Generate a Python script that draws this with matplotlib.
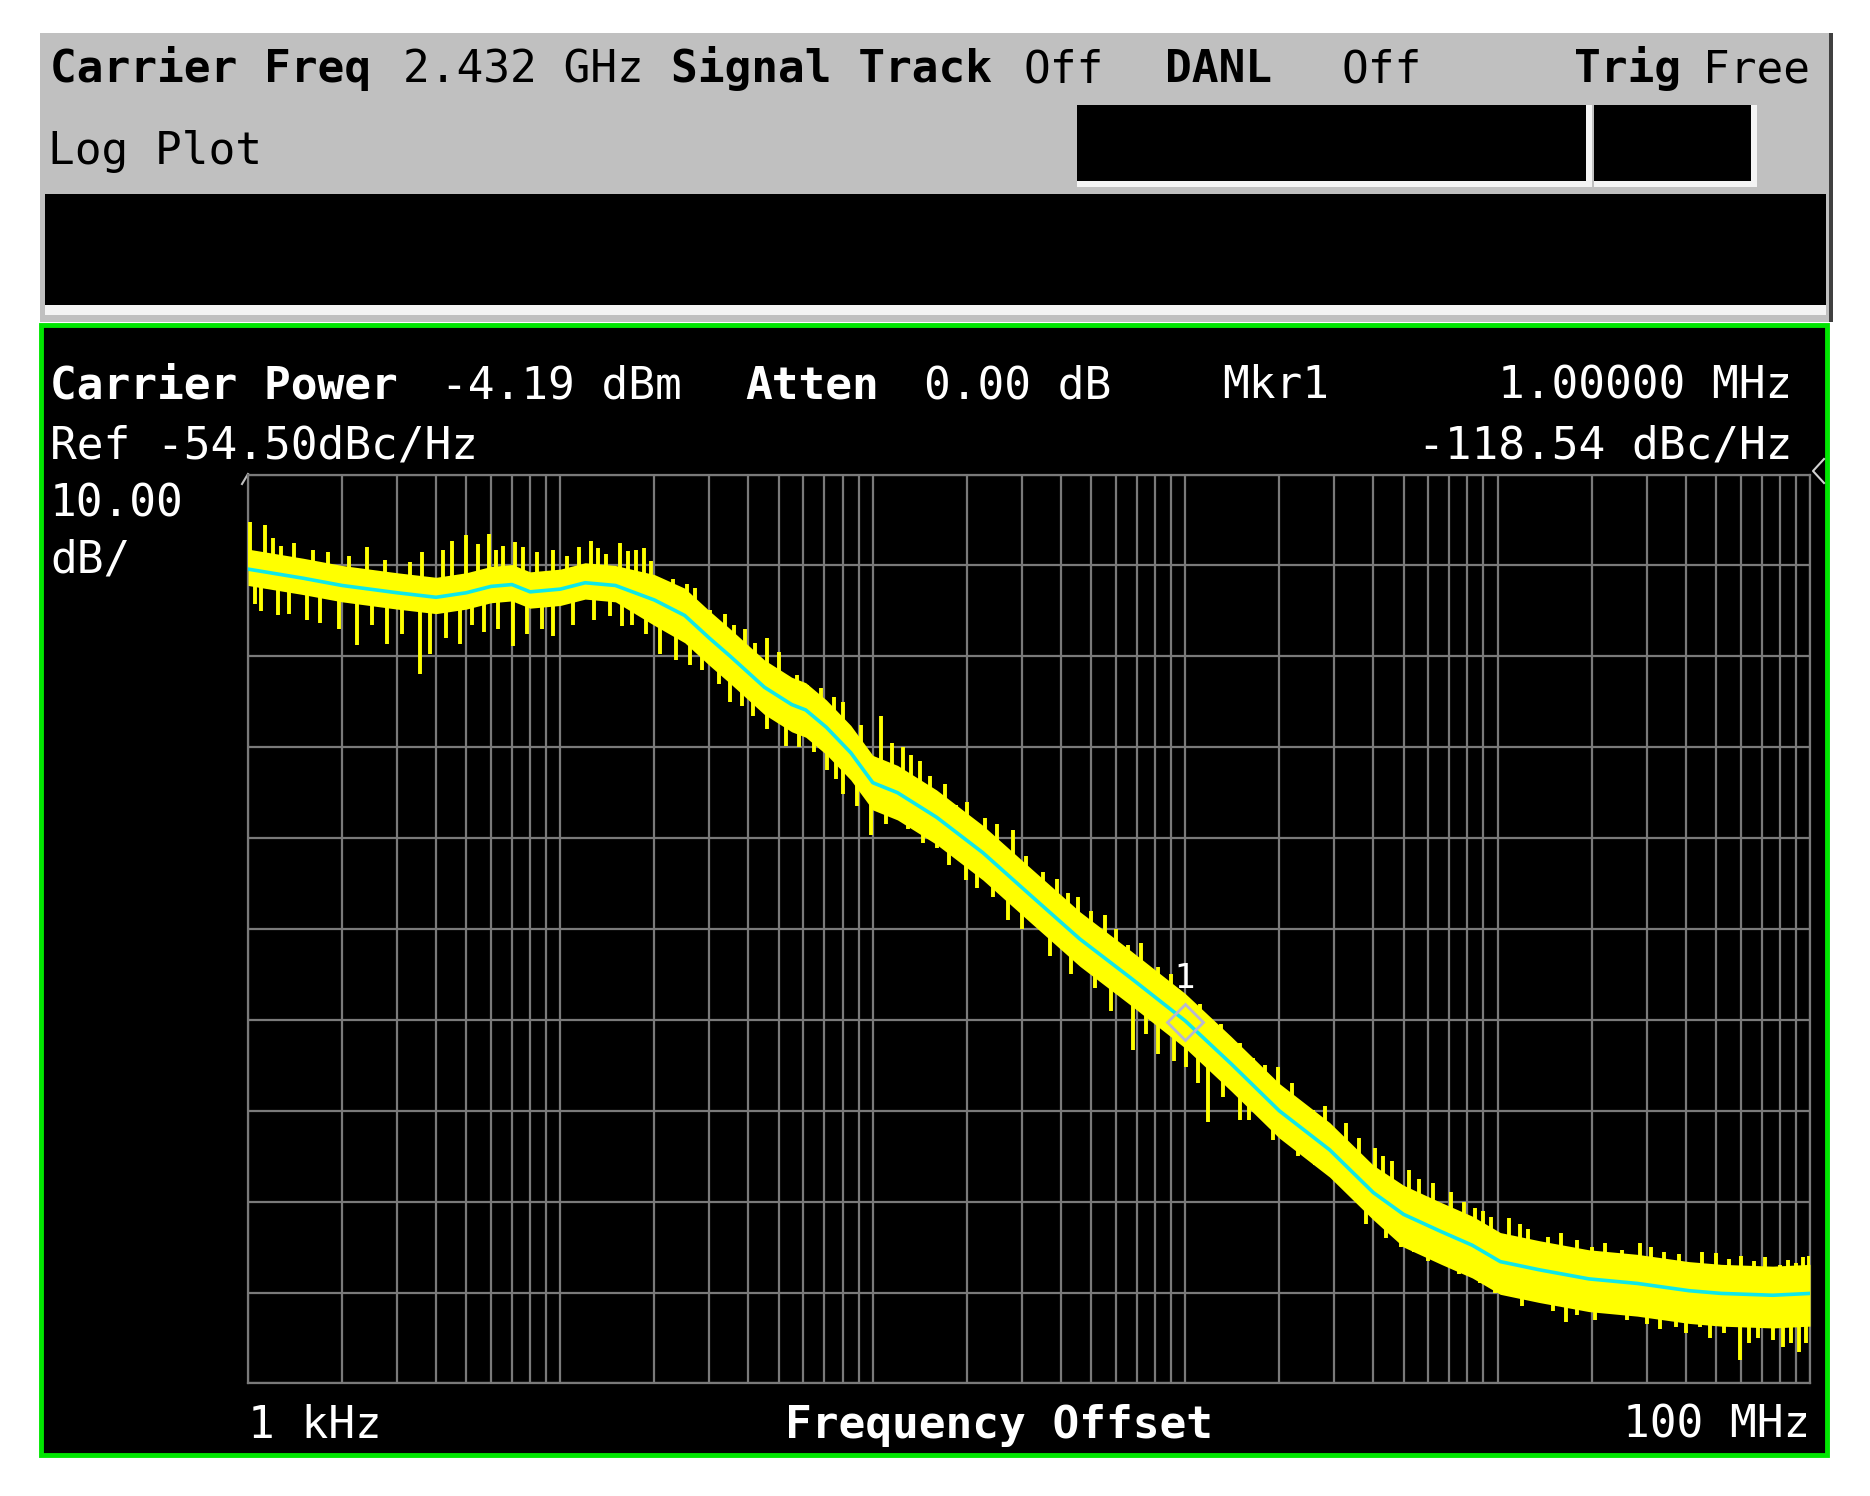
import numpy as np
import matplotlib
matplotlib.use("Agg")
import matplotlib.pyplot as plt
from matplotlib.patches import Rectangle
from matplotlib.ticker import LogLocator, FixedLocator, NullFormatter

# ---- data (frequency offset in Hz, level in dBc/Hz) ----
ref_level = -54.50
db_per_div = 10.0

avg_freq_hz = [1e3, 1.5e3, 2e3, 3e3, 4e3, 5e3, 6e3, 7e3, 8e3, 10e3, 12e3, 15e3, 20e3, 25e3,
               30e3, 35e3, 45e3, 55e3, 61e3, 71e3, 85e3, 100e3, 120e3, 160e3, 225e3, 325e3,
               460e3, 670e3, 1e6, 1.4e6, 2e6, 2.9e6, 4e6, 5e6, 6.6e6, 8.3e6, 10.2e6, 13.6e6,
               19.6e6, 28e6, 41e6, 52e6, 76e6, 100e6]
avg_db = [-64.9, -65.9, -66.7, -67.5, -68.0, -67.5, -66.8, -66.6, -67.4, -67.1, -66.4, -66.7,
          -68.3, -70.0, -72.5, -74.5, -77.9, -79.8, -80.4, -82.3, -85.1, -88.4, -89.5, -92.2,
          -96.1, -101.0, -105.6, -109.9, -114.6, -119.3, -124.5, -128.8, -133.5, -135.9,
          -137.8, -139.3, -141.1, -142.0, -143.0, -143.5, -144.3, -144.6, -144.8, -144.6]

# dense body of the raw (yellow) trace
raw_hi_db = [-62.7, -63.7, -64.5, -65.3, -65.8, -65.3, -64.6, -64.4, -65.2, -64.9, -64.2, -64.5,
             -65.5, -67.0, -69.5, -71.5, -74.9, -76.8, -77.4, -79.3, -82.1, -85.4, -86.5, -89.2,
             -93.1, -98.0, -102.6, -106.9, -111.6, -116.3, -121.5, -125.8, -130.5, -132.7,
             -134.6, -136.1, -137.9, -138.8, -139.8, -140.3, -141.1, -141.4, -141.6, -141.4]
raw_lo_db = [-66.7, -67.7, -68.5, -69.3, -69.8, -69.3, -68.6, -68.4, -69.2, -68.9, -68.2, -68.5,
             -71.1, -73.0, -75.5, -77.5, -80.9, -82.8, -83.4, -85.3, -88.1, -91.4, -92.5, -95.2,
             -99.1, -104.0, -108.6, -112.9, -117.6, -122.3, -127.5, -131.8, -136.5, -139.5,
             -141.4, -142.9, -144.7, -145.6, -146.6, -147.1, -147.9, -148.2, -148.4, -148.2]

# noise spikes of the raw trace (tips)
up_spike_hz = [1.015e3, 1.13e3, 1.2e3, 1.28e3, 1.4e3, 1.62e3, 1.8e3, 2.1e3, 2.4e3, 2.74e3,
               3.30e3, 3.6e3, 4.2e3, 4.5e3, 5.0e3, 5.46e3, 5.9e3, 6.2e3, 6.56e3, 7.15e3, 7.6e3,
               8.4e3, 9.49e3, 10.5e3, 11.5e3, 12.5e3, 13.2e3, 14.0e3, 15.5e3, 16.5e3, 17.5e3,
               18.5e3, 19.5e3, 21.3e3, 23e3, 25.5e3, 27e3, 30.1e3, 33.6e3, 36e3, 39e3, 42e3,
               45.7e3, 50e3, 57e3, 61.4e3, 68.5e3, 75e3, 80e3, 92e3, 106.6e3, 115e3, 125e3,
               133e3, 142e3, 152e3, 170e3, 185e3, 200e3, 228e3, 250e3, 281e3, 310e3, 350e3,
               390e3, 420e3, 454e3, 500e3, 553e3, 600e3, 656e3, 720e3, 818e3, 900e3, 1.113e6,
               1.198e6, 1.3e6, 1.5e6, 1.648e6, 1.8e6, 1.98e6, 2.2e6, 2.56e6, 2.8e6, 3.28e6,
               3.6e6, 4.04e6, 4.3e6, 4.6e6, 5.2e6, 5.6e6, 6.2e6, 7.11e6, 7.8e6, 8.44e6, 9.0e6,
               9.55e6, 10.9e6, 11.8e6, 12.5e6, 14.5e6, 16e6, 17.9e6, 20e6, 22e6, 25e6, 28.5e6,
               31e6, 34e6, 38e6, 45e6, 50.1e6, 55e6, 60e6, 66e6, 72e6, 79.9e6, 85e6, 90e6,
               94.8e6, 99e6]
up_spike_db = [-59.7, -60.1, -61.5, -62.4, -62.0, -62.8, -63.0, -63.5, -62.5, -63.9,
               -64.1, -63.0, -62.8, -61.8, -61.2, -62.1, -61.0, -62.8, -62.4, -61.9, -62.5,
               -63.0, -62.8, -63.5, -62.5, -61.8, -62.6, -63.2, -62.0, -62.9, -62.8,
               -62.6, -64.0, -66.8, -66.0, -66.5, -67.0, -69.4, -69.8, -71.0, -71.5, -73.0,
               -72.5, -74.0, -76.5, -77.7, -78.0, -79.0, -79.5, -82.0, -81.1, -84.0, -84.5,
               -85.4, -86.0, -87.7, -88.5, -90.9, -90.5, -92.3, -93.0, -93.6, -96.5, -98.2,
               -99.0, -100.5, -101.0, -102.5, -103.0, -104.5, -106.3, -106.0, -108.7, -109.5,
               -112.7, -114.5, -115.0, -117.0, -118.7, -119.5, -119.7, -121.5, -124.4, -124.0,
               -125.9, -127.5, -128.6, -129.5, -130.0, -131.0, -132.0, -132.5, -133.4, -134.5,
               -135.2, -135.5, -136.2, -136.3, -137.0, -137.5, -138.4, -138.0, -138.7, -139.5,
               -139.0, -139.8, -139.1, -139.5, -140.0, -140.3, -140.0, -140.2, -140.8, -140.5,
               -141.0, -140.6, -141.5, -140.9, -141.2, -140.6, -140.5]
down_spike_hz = [1.05e3, 1.1e3, 1.25e3, 1.35e3, 1.54e3, 1.7e3, 1.95e3, 2.23e3, 2.5e3, 2.78e3,
                 3.1e3, 3.55e3, 3.82e3, 4.3e3, 4.76e3, 5.2e3, 5.7e3, 6.3e3, 7.06e3, 7.8e3,
                 8.7e3, 9.49e3, 11e3, 12.8e3, 14.4e3, 15.7e3, 17e3, 18.8e3, 20.8e3, 23.5e3,
                 26e3, 28.5e3, 32.3e3, 34.8e3, 38e3, 41.4e3, 46e3, 52.9e3, 58e3, 65e3, 71.1e3,
                 76e3, 80.4e3, 88.7e3, 99e3, 110e3, 122e3, 130e3, 145e3, 160e3, 175e3, 199e3,
                 215e3, 242e3, 270e3, 300e3, 370e3, 430e3, 513e3, 580e3, 681e3, 750e3, 818e3,
                 920e3, 1.009e6, 1.1e6, 1.183e6, 1.32e6, 1.494e6, 1.6e6, 1.91e6, 2.3e6, 2.6e6,
                 3.2e6, 3.8e6, 4.4e6, 4.9e6, 5.4e6, 6.0e6, 7.5e6, 8.8e6, 9.8e6, 10.9e6, 12e6,
                 13.6e6, 15e6, 16.6e6, 18e6, 20.5e6, 23.4e6, 26e6, 30e6, 33e6, 37.3e6, 40e6,
                 44.3e6, 48e6, 53e6, 59.5e6, 64e6, 68e6, 76e6, 82e6, 87e6, 92e6, 97.2e6]
down_spike_db = [-68.7, -69.5, -70.0, -69.8, -70.5, -70.8, -71.5, -73.3, -71.0, -73.1,
                 -72.0, -76.4, -74.2, -72.5, -73.1, -71.0, -71.8, -71.5, -73.4, -72.0,
                 -71.5, -72.3, -71.0, -70.5, -70.1, -71.2, -71.0, -72.0, -74.2, -74.9,
                 -75.5, -76.0, -77.5, -79.5, -80.0, -81.1, -82.5, -84.4, -84.5, -85.0, -87.0,
                 -88.0, -89.6, -91.0, -94.2, -93.0, -91.8, -93.5, -95.0, -95.6, -97.5, -99.1,
                 -100.0, -101.0, -103.5, -104.5, -107.5, -109.5, -111.0, -113.5, -117.8, -116.0,
                 -118.2, -119.0, -119.7, -121.5, -125.7, -122.95, -125.5, -125.5, -127.7, -129.5,
                 -130.5, -133.0, -137.0, -138.5, -139.5, -140.0, -141.0, -142.5, -143.5, -144.5,
                 -144.8, -146.0, -145.3, -146.5, -147.7, -147.0, -147.5, -146.8, -147.5, -148.0,
                 -148.5, -148.3, -149.0, -148.3, -149.5, -149.0, -151.9, -150.0, -149.5, -149.7,
                 -150.5, -150.0, -151.0, -150.1]

mkr_freq_hz = 1e6
mkr_db = -114.7

YELLOW = "#ffff00"
CYAN = "#10e8e8"
GREEN = "#00e600"
GRID = "#7a7a7a"
PANEL = "#c0c0c0"
MONO = "DejaVu Sans Mono"
FS = 32

W, H = 1870, 1496
fig = plt.figure(figsize=(W / 100, H / 100), dpi=100)
fig.patch.set_facecolor("white")

# background layer in screen pixels (y down)
bg = fig.add_axes([0, 0, 1, 1])
bg.set_xlim(0, W)
bg.set_ylim(H, 0)
bg.axis("off")


def box(x0, y0, x1, y1, **kw):
    bg.add_patch(Rectangle((x0, y0), x1 - x0, y1 - y0, **kw))


# gray status header
box(40, 33, 1831, 322, facecolor=PANEL, edgecolor="none")
box(1829, 33, 1833, 322, facecolor="#404040", edgecolor="none")
box(45, 194, 1826, 305, facecolor="black", edgecolor="none")
box(45, 305, 1826, 315, facecolor="#f4f4f4", edgecolor="none")
box(1077, 105, 1592, 187, facecolor="#f4f4f4", edgecolor="none")
box(1594, 105, 1757, 187, facecolor="#f4f4f4", edgecolor="none")
box(1077, 105, 1586, 181, facecolor="black", edgecolor="none")
box(1594, 105, 1751, 181, facecolor="black", edgecolor="none")

# green measurement frame
box(41, 325, 1827, 1455, facecolor="black", edgecolor=GREEN, linewidth=3.5)

hdr = dict(family=MONO, fontsize=FS, color="black", va="baseline")
bg.text(50, 82, "Carrier Freq", fontweight="bold", **hdr)
bg.text(403, 82, "2.432 GHz", **hdr)
bg.text(671, 82, "Signal Track", fontweight="bold", **hdr)
bg.text(1023, 82, "Off", **hdr)
bg.text(1165, 82, "DANL", fontweight="bold", **hdr)
bg.text(1342, 82, "Off", **hdr)
bg.text(1574, 82, "Trig", fontweight="bold", **hdr)
bg.text(1810, 82, "Free", ha="right", **hdr)
bg.text(48, 164, "Log Plot", **hdr)

wt = dict(family=MONO, fontsize=FS, color="white", va="baseline")
bg.text(50, 398, "Carrier Power", fontweight="bold", **wt)
bg.text(441, 398, "-4.19 dBm", **wt)
bg.text(745, 398, "Atten", fontweight="bold", **wt)
bg.text(924, 398, "0.00 dB", **wt)
bg.text(1222, 398, "Mkr1", **wt)
bg.text(1792, 398, "1.00000 MHz", ha="right", **wt)
bg.text(50, 458, f"Ref {ref_level:.2f}dBc/Hz", **wt)
bg.text(1792, 458, "-118.54 dBc/Hz", ha="right", **wt)
bg.text(50, 516, f"{db_per_div:.2f}", **wt)
bg.text(50, 572, "dB/", **wt)
bg.text(248, 1438, "1 kHz", **wt)
bg.text(999, 1438, "Frequency Offset", ha="center", fontweight="bold", **wt)
bg.text(1810, 1438, "100 MHz", ha="right", **wt)

# reference level arrow at right edge, small tick at top-left corner
bg.plot([1824, 1813, 1824], [459, 471, 483], color="#d0d0d0", lw=1.5)
bg.plot([242, 248], [484, 474], color="#c0c0c0", lw=1.5)

# ---- the graticule ----
gx0, gx1, gy0, gy1 = 248, 1810, 474.6, 1383.4
ax = fig.add_axes([gx0 / W, 1 - gy1 / H, (gx1 - gx0) / W, (gy1 - gy0) / H])
ax.set_zorder(2)
ax.set_facecolor("black")
ax.set_xscale("log")
ax.set_xlim(1e3, 1e8)
bottom = ref_level - 10 * db_per_div
ax.set_ylim(bottom, ref_level)
ax.xaxis.set_major_locator(LogLocator(base=10))
ax.xaxis.set_minor_locator(LogLocator(base=10, subs=np.arange(2, 10)))
ax.yaxis.set_major_locator(FixedLocator(np.arange(bottom, ref_level + 0.1, db_per_div)))
ax.xaxis.set_major_formatter(NullFormatter())
ax.xaxis.set_minor_formatter(NullFormatter())
ax.yaxis.set_major_formatter(NullFormatter())
ax.tick_params(which="both", length=0)
ax.grid(True, which="both", color=GRID, lw=1.6)
ax.set_axisbelow(True)
for s in ax.spines.values():
    s.set_color(GRID)
    s.set_linewidth(1.6)

# raw trace: dense body + spikes
ax.fill_between(avg_freq_hz, raw_lo_db, raw_hi_db, color=YELLOW, lw=0, zorder=3)
lf = np.log10(avg_freq_hz)
up_base = np.interp(np.log10(up_spike_hz), lf, avg_db)
dn_base = np.interp(np.log10(down_spike_hz), lf, avg_db)
ax.vlines(up_spike_hz, up_base, up_spike_db, color=YELLOW, lw=2.8, zorder=3)
ax.vlines(down_spike_hz, down_spike_db, dn_base, color=YELLOW, lw=2.8, zorder=3)

# averaged trace
ax.plot(avg_freq_hz, avg_db, color=CYAN, lw=2.6, zorder=4)

# marker 1
ax.plot(mkr_freq_hz, mkr_db, marker="D", ms=18, mfc="none", mec="#b8b8d0", mew=2, zorder=5)
ax.text(mkr_freq_hz, mkr_db + 2.9, "1", color="white", fontsize=24, ha="center",
        va="bottom", family="DejaVu Sans", zorder=5)

fig.savefig("out.png", dpi=100, facecolor=fig.get_facecolor())
